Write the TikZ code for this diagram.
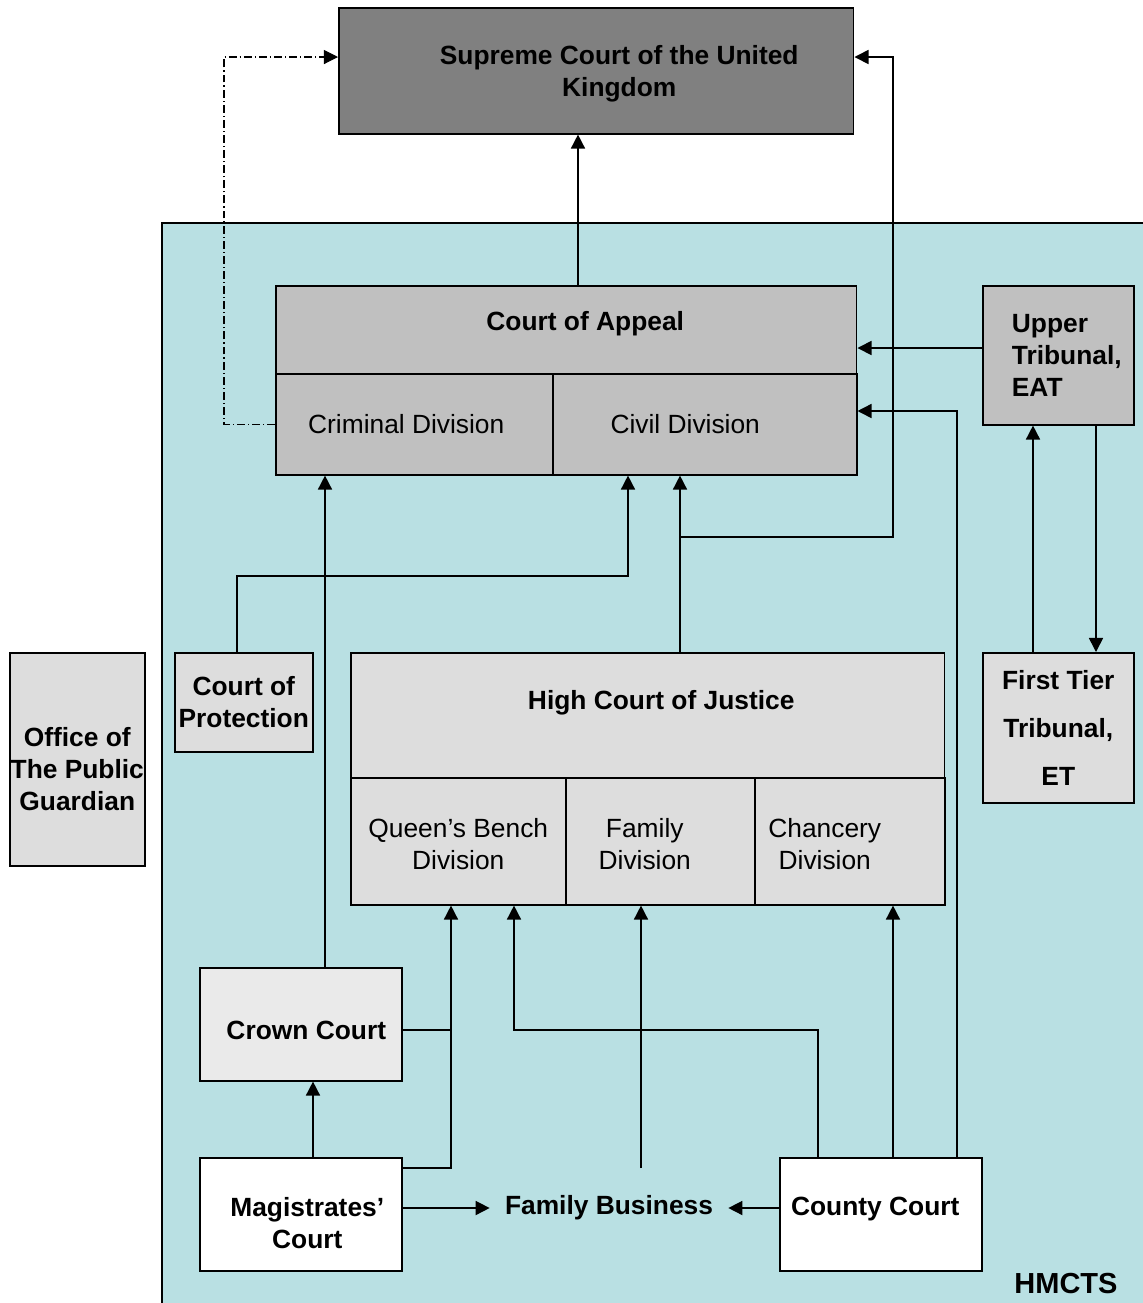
\documentclass[tikz,border=0pt]{standalone}
\usepackage{fontspec}
\setmainfont{Liberation Sans}
\usetikzlibrary{arrows.meta}

\definecolor{hmctsblue}{RGB}{185,224,227}
\definecolor{supremegray}{RGB}{128,128,128}
\definecolor{appealgray}{RGB}{192,192,192}
\definecolor{highgray}{RGB}{221,221,221}
\definecolor{crowngray}{RGB}{234,234,234}

\begin{document}
\begin{tikzpicture}[
        x=0.02cm, y=-0.02cm,
        font=\fontsize{15}{18.2}\selectfont,
        box/.style={
            draw,
            line width=0.9pt,
            anchor=north west,
            inner sep=0pt,
            align=center
        },
        bold/.style={font=\bfseries\fontsize{15}{18.2}\selectfont},
        link/.style={line width=0.9pt, -{Triangle[length=8pt,width=8pt]}},
        dashlink/.style={
            line width=0.6pt,
            dash pattern=on 4.5pt off 1.7pt on 0.7pt off 1.7pt,
            -{Triangle[length=8pt,width=8pt]}
        }
    ]

    \useasboundingbox (0,0) rectangle (1143,1303);

    % Área HMCTS
    \node[box, fill=hmctsblue, minimum width=19.8cm, minimum height=21.8cm] (hmctsarea) at (161,222) {};
    \node[bold] (hmcts) at (1066,1284) {\fontsize{16.5}{20}\selectfont HMCTS};

    % Tribunais
    \node[box, fill=supremegray, minimum width=10.3cm, minimum height=2.52cm,
        label={[bold, align=center, xshift=0.46cm, yshift=-0.06cm]center:{Supreme Court of the United\\Kingdom}}] (supreme) at (338,7) {};

    \node[box, fill=appealgray, minimum width=11.62cm, minimum height=1.76cm,
        label={[bold, xshift=0.38cm, yshift=0.12cm]center:Court of Appeal}] (appeal) at (275,285) {};
    \node[box, fill=appealgray, minimum width=5.54cm, minimum height=2.02cm,
        label={[xshift=-0.16cm]center:Criminal Division}] (criminal) at (275,373) {};
    \node[box, fill=appealgray, minimum width=6.08cm, minimum height=2.02cm,
        label={[xshift=-0.39cm]center:Civil Division}] (civil) at (552,373) {};

    \node[box, fill=appealgray, minimum width=3.02cm, minimum height=2.78cm,
        label={[bold, align=left, xshift=0.17cm]center:{Upper\\Tribunal,\\EAT}}] (upper) at (982,285) {};
    \node[box, fill=highgray, minimum width=3.02cm, minimum height=3cm,
        font=\bfseries\fontsize{15}{27.2}\selectfont] (firsttier) at (982,652) {First Tier\\Tribunal,\\ET};

    \node[box, bold, fill=highgray, minimum width=2.76cm, minimum height=1.98cm] (protection) at (174,652) {Court of\\Protection};
    \node[box, fill=highgray, minimum width=2.7cm, minimum height=4.26cm,
        label={[bold, align=center, yshift=-0.19cm]center:{Office of\\The Public\\Guardian}}] (office) at (9,652) {};

    \node[box, fill=highgray, minimum width=11.88cm, minimum height=2.5cm,
        label={[bold, xshift=0.27cm, yshift=0.25cm]center:High Court of Justice}] (high) at (350,652) {};
    \node[box, fill=highgray, minimum width=4.3cm, minimum height=2.54cm,
        label={[align=center, yshift=-0.05cm]center:{Queen’s Bench\\Division}}] (qb) at (350,777) {};
    \node[box, fill=highgray, minimum width=3.78cm, minimum height=2.54cm,
        label={[align=center, xshift=-0.31cm, yshift=-0.05cm]center:{Family\\Division}}] (family) at (565,777) {};
    \node[box, fill=highgray, minimum width=3.8cm, minimum height=2.54cm,
        label={[align=center, xshift=-0.5cm, yshift=-0.05cm]center:{Chancery\\Division}}] (chancery) at (754,777) {};

    \node[box, fill=crowngray, minimum width=4.04cm, minimum height=2.26cm,
        label={[bold, xshift=0.11cm, yshift=-0.13cm]center:Crown Court}] (crown) at (199,967) {};
    \node[box, fill=white, minimum width=4.04cm, minimum height=2.26cm,
        label={[bold, align=center, xshift=0.13cm, yshift=-0.18cm]center:{Magistrates’\\Court}}] (magistrates) at (199,1157) {};
    \node[box, fill=white, minimum width=4.04cm, minimum height=2.26cm,
        label={[bold, xshift=-0.11cm, yshift=0.1cm]center:County Court}] (county) at (779,1157) {};
    \node[bold, inner xsep=0.3cm] (business) at (609,1208) {Family Business};

    % Pontos de dobra
    \coordinate (appealup) at (578,0);
    \coordinate (dashcorner) at (224,57);
    \coordinate (civilsplit) at (680,537);
    \coordinate (supremeright) at (893,57);
    \coordinate (upperout) at (920,348);
    \coordinate (countyup) at (957,411);
    \coordinate (tierup) at (1033,0);
    \coordinate (tierdown) at (1096,0);
    \coordinate (protbend) at (237,576);
    \coordinate (protcivil) at (628,576);
    \coordinate (crownup) at (325,0);
    \coordinate (crownqb) at (451,1030);
    \coordinate (magqb) at (451,1168);
    \coordinate (magcrown) at (313,0);
    \coordinate (countyqb) at (818,1030);
    \coordinate (qbbend) at (514,1030);
    \coordinate (familyfoot) at (641,1168);
    \coordinate (chanceryup) at (893,0);

    % Ligações
    \draw[link] (appeal.north -| appealup) -- (supreme.south -| appealup);
    \draw[dashlink] (criminal.west) -| (dashcorner) -- (supreme.west |- dashcorner);
    \draw[link] (high.north -| civilsplit) -- (civil.south -| civilsplit);
    \draw[link] (civilsplit) -| (supremeright) -- (supreme.east |- supremeright);
    \draw[link] (upper.west |- upperout) -- (appeal.east |- upperout);
    \draw[link] (county.north -| countyup) -- (countyup) -- (civil.east |- countyup);
    \draw[link] (firsttier.north -| tierup) -- (upper.south -| tierup);
    \draw[link] (upper.south -| tierdown) -- (firsttier.north -| tierdown);
    \draw[link] (protection.north -| protbend) -- (protbend) -- (protcivil) -- (civil.south -| protcivil);
    \draw[link] (crown.north -| crownup) -- (criminal.south -| crownup);
    \draw[line width=0.9pt] (crown.east |- crownqb) -- (crownqb);
    \draw[link] (magistrates.east |- magqb) -- (magqb) -- (qb.south -| magqb);
    \draw[link] (magistrates.north -| magcrown) -- (crown.south -| magcrown);
    \draw[link] (county.north -| countyqb) -- (countyqb) -- (qbbend) -- (qb.south -| qbbend);
    \draw[link] (familyfoot) -- (family.south -| familyfoot);
    \draw[link] (county.north -| chanceryup) -- (chancery.south -| chanceryup);
    \draw[link] (magistrates.east |- business) -- (business.west);
    \draw[link] (county.west |- business) -- (business.east);

\end{tikzpicture}
\end{document}
